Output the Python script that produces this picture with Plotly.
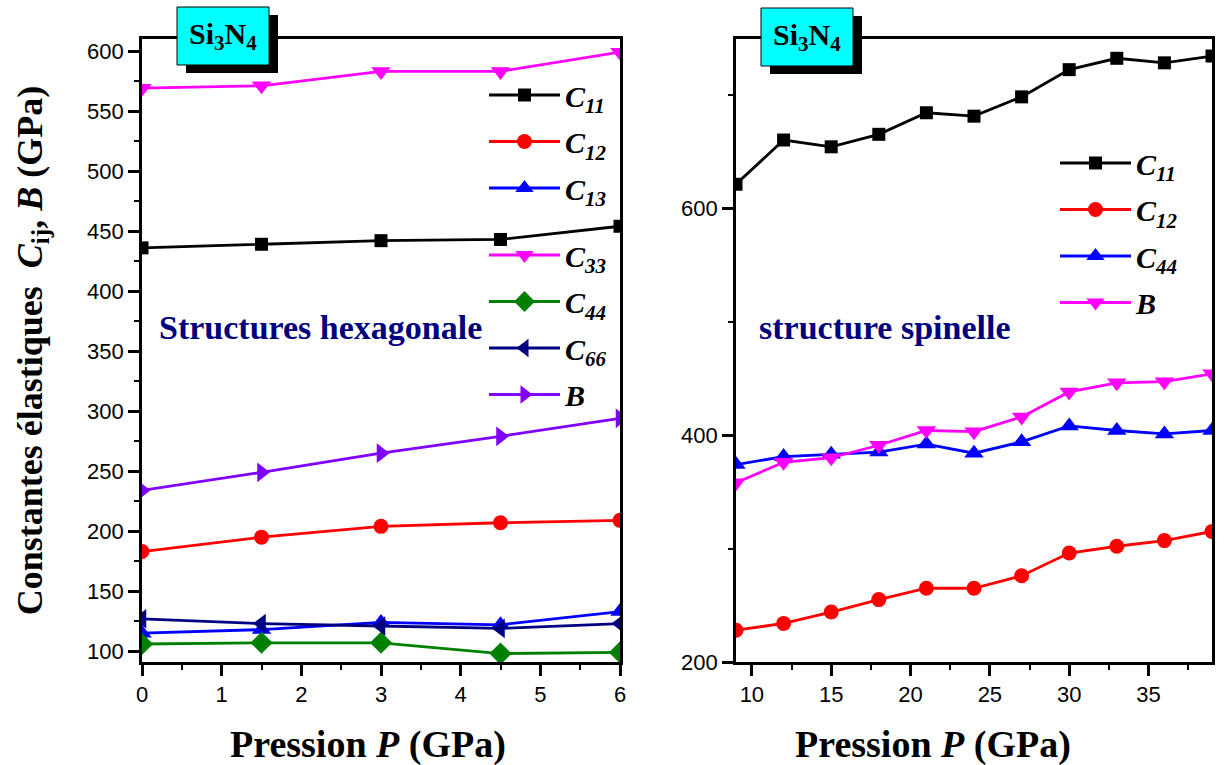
import plotly.graph_objects as go

# ---------------- data ----------------
P_hex = [0, 1.5, 3, 4.5, 6]
C11_hex = [436, 439, 442, 443, 454]
C12_hex = [183, 195, 204, 207, 209]
C13_hex = [115, 118, 124, 122, 133]
C33_hex = [569, 571, 583, 583, 599]
C44_hex = [106, 107, 107, 98, 99]
C66_hex = [127, 123, 121, 119, 123]
B_hex = [234, 249, 265, 279, 294]

P_sp = [9, 12, 15, 18, 21, 24, 27, 30, 33, 36, 39]
C11_sp = [621, 660, 654, 665, 684, 681, 698, 722, 732, 728, 734]
C12_sp = [228, 234, 244, 255, 265, 265, 276, 296, 302, 307, 315]
C44_sp = [374, 381, 383, 385, 392, 384, 394, 408, 404, 401, 404]
B_sp = [358, 376, 380, 391, 404, 403, 416, 438, 446, 447, 454]

hex_labels = ["11", "12", "13", "33", "44", "66", "B"]
sp_labels = ["11", "12", "44", "B"]

# ---------------- layout helpers ----------------
W, H = 1224, 765
def px(x):
    return x / W
def py(y):
    return 1 - y / H

SERIF = "Liberation Serif, Times New Roman, serif"
TICKFONT = dict(family="Liberation Sans, Arial", size=22, color="black")

def lname(lbl):
    if lbl == "B":
        return "<b><i>B</i></b>"
    return "<b><i>C</i><sub><i>%s</i></sub></b>" % lbl

fig = go.Figure()

hex_series = [
    (C11_hex, "black", "square", 13),
    (C12_hex, "#FF0000", "circle", 15),
    (C13_hex, "#0000FF", "triangle-up", 17),
    (C33_hex, "#FF00FF", "triangle-down", 17),
    (C44_hex, "#008000", "diamond", 17),
    (C66_hex, "#000080", "triangle-left", 17),
    (B_hex, "#8000FF", "triangle-right", 17),
]
for i, ((vals, col, sym, sz), lbl) in enumerate(zip(hex_series, hex_labels)):
    fig.add_trace(go.Scatter(
        x=P_hex, y=vals, mode="lines+markers", name=lname(lbl),
        line=dict(color=col, width=2.8),
        marker=dict(color=col, symbol=sym, size=sz),
        xaxis="x", yaxis="y",
        legend="legend" if i < 3 else "legend3",
        legendgroup="h%d" % i,
    ))

sp_series = [
    (C11_sp, "black", "square", 13),
    (C12_sp, "#FF0000", "circle", 15),
    (C44_sp, "#0000FF", "triangle-up", 17),
    (B_sp, "#FF00FF", "triangle-down", 17),
]
for i, ((vals, col, sym, sz), lbl) in enumerate(zip(sp_series, sp_labels)):
    fig.add_trace(go.Scatter(
        x=P_sp, y=vals, mode="lines+markers", name=lname(lbl),
        line=dict(color=col, width=2.8),
        marker=dict(color=col, symbol=sym, size=sz),
        xaxis="x2", yaxis="y2",
        legend="legend2",
        legendgroup="s%d" % i,
    ))

axis_common = dict(
    showline=True, linecolor="black", linewidth=2.7, mirror=True,
    showgrid=False, zeroline=False, automargin=False,
    ticks="outside", ticklen=11, tickwidth=2.5, tickcolor="black",
    tickfont=TICKFONT,
)
minor_common = dict(ticks="outside", ticklen=5, tickwidth=2, tickcolor="black")

fig.update_layout(
    width=W, height=H,
    margin=dict(l=0, r=0, t=0, b=0),
    paper_bgcolor="white", plot_bgcolor="white",
    xaxis=dict(domain=[px(142), px(620)], range=[0, 6], dtick=1, tick0=0,
               minor=dict(dtick=0.5, **minor_common), anchor="y", **axis_common),
    yaxis=dict(domain=[py(662), py(39)], range=[91, 610], dtick=50, tick0=100,
               minor=dict(dtick=25, **minor_common), anchor="x",
               title=dict(text="<b>Constantes élastiques  <i>C</i><sub>ij</sub>, <i>B</i> (GPa)</b>",
                          font=dict(family=SERIF, size=36, color="black"), standoff=34),
               **axis_common),
    xaxis2=dict(domain=[px(736), px(1212)], range=[9, 39], dtick=5, tick0=10,
                minor=dict(dtick=2.5, **minor_common), anchor="y2", **axis_common),
    yaxis2=dict(domain=[py(662), py(39)], range=[200, 749], dtick=200, tick0=200,
                minor=dict(dtick=100, **minor_common), anchor="x2", **axis_common),
    showlegend=True,
)

leg_common = dict(
    bgcolor="rgba(0,0,0,0)", borderwidth=0,
    font=dict(family=SERIF, size=30, color="black"),
    traceorder="grouped", tracegroupgap=4.5, itemwidth=71,
    xanchor="left", yanchor="top",
)
fig.update_layout(
    legend=dict(x=px(484), y=py(69), **leg_common),
    legend3=dict(x=px(484), y=py(229), **leg_common),
    legend2=dict(x=px(1055), y=py(137), **leg_common),
)

# x-axis titles
for cx in [368, 933]:
    fig.add_annotation(xref="paper", yref="paper", x=px(cx), y=py(744),
                       text="<b>Pression <i>P</i> (GPa)</b>", showarrow=False,
                       font=dict(family=SERIF, size=38, color="black"),
                       xanchor="center", yanchor="middle")

# Si3N4 boxes
for (x0, y0) in [(177, 7), (761, 8)]:
    bw, bh = 92, 58
    fig.add_shape(type="rect", xref="paper", yref="paper",
                  x0=px(x0 + 9), x1=px(x0 + bw + 9), y0=py(y0 + bh + 8), y1=py(y0 + 8),
                  fillcolor="black", line=dict(width=0), layer="above")
    fig.add_shape(type="rect", xref="paper", yref="paper",
                  x0=px(x0), x1=px(x0 + bw), y0=py(y0 + bh), y1=py(y0),
                  fillcolor="#00FFFF", line=dict(color="black", width=1), layer="above")
    fig.add_annotation(xref="paper", yref="paper", x=px(x0 + bw / 2), y=py(y0 + bh / 2),
                       text="<b>Si<sub>3</sub>N<sub>4</sub></b>", showarrow=False,
                       font=dict(family=SERIF, size=30, color="black"),
                       xanchor="center", yanchor="middle")

fig.add_annotation(xref="paper", yref="paper", x=px(320), y=py(327),
                   text="<b>Structures hexagonale</b>", showarrow=False,
                   font=dict(family=SERIF, size=34, color="#000080"),
                   xanchor="center", yanchor="middle")
fig.add_annotation(xref="paper", yref="paper", x=px(885), y=py(327),
                   text="<b>structure spinelle</b>", showarrow=False,
                   font=dict(family=SERIF, size=34, color="#000080"),
                   xanchor="center", yanchor="middle")

fig.write_html("out.html")
